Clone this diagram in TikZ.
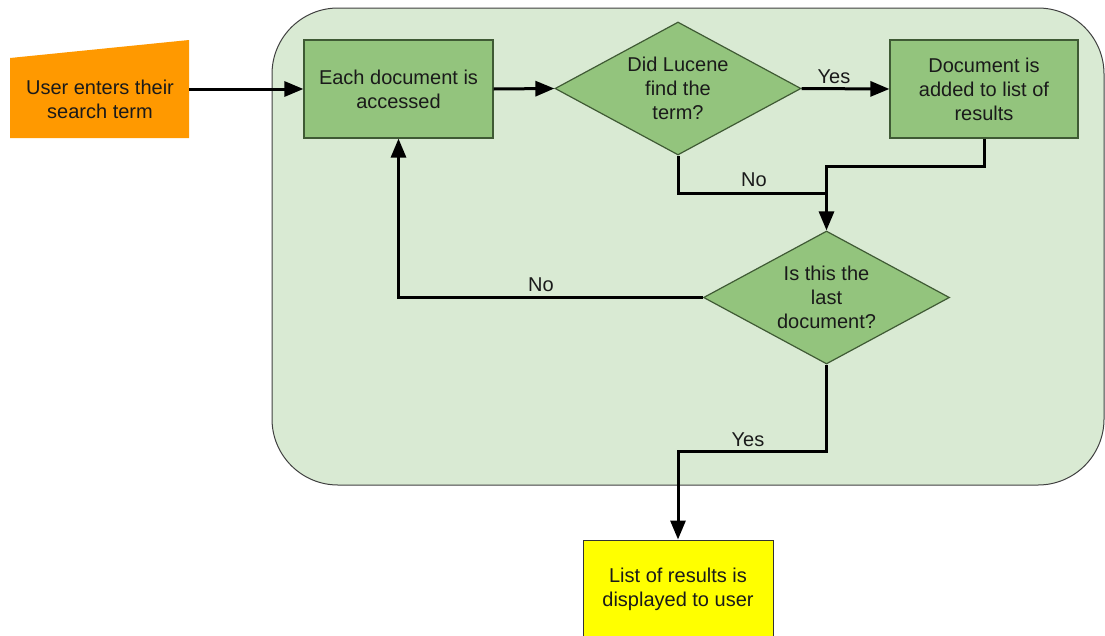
\documentclass[tikz,border=0pt]{standalone}
\usepackage{fontspec}
\setmainfont{Liberation Sans}
\usetikzlibrary{shapes.geometric,arrows.meta}
\definecolor{panel}{HTML}{D9EAD3}
\definecolor{stepgreen}{HTML}{93C47D}
\definecolor{stepedge}{HTML}{3F5A34}
\definecolor{startorange}{HTML}{FF9900}
\definecolor{endyellow}{HTML}{FFFF00}
\definecolor{ink}{HTML}{1A1A1A}
\begin{document}
\begin{tikzpicture}[x=1pt,y=-1pt,
  every node/.style={font=\fontsize{20}{24}\selectfont, text=ink, align=center},
  stepbox/.style={draw=stepedge, line width=1.2pt, fill=stepgreen, rectangle, inner sep=0pt},
  decision/.style={draw=stepedge, line width=1.2pt, fill=stepgreen, diamond, inner sep=0pt,
                   aspect=1.85, minimum width=246pt, minimum height=133pt},
  flow/.style={draw=black, line width=3pt},
  arr/.style={flow, -{Triangle[length=19pt,width=15pt]}},
  lbl/.style={inner sep=0pt}
]
\useasboundingbox (0,0) rectangle (1105,635);

% rounded panel holding the search loop
\draw[draw=black!75, line width=1pt, fill=panel, rounded corners=66pt]
  (272,8) rectangle (1104,485);

% start: manual input shape
\fill[startorange] (10,58) -- (189,40) -- (189,138) -- (10,138) -- cycle;
\node (user) at (100,99.5) {User enters their\\search term};
\coordinate (userR) at (189,89);

% process steps
\node[stepbox, minimum width=189pt, minimum height=98pt] (access) at (398.5,89)
  {Each document is\\accessed};
\node[decision] (found) at (678,88.5) {Did Lucene\\find the\\term?};
\node[stepbox, minimum width=188pt, minimum height=98pt] (added) at (984,89)
  {Document is\\added to list of\\results};
\node[decision] (last) at (826.5,297.5) {Is this the\\last\\document?};

% end
\node[draw=black!80, line width=1pt, fill=endyellow, minimum width=190pt, minimum height=98pt,
      inner sep=0pt] (show) at (678,589) {List of results is\\displayed to user};

% connectors
\draw[arr] (userR) -- (access.west |- userR);
\draw[arr] (access.east) -- (found.west);
\draw[arr] (found.east) -- (added.west);
\draw[arr] (added.south) -- ++(0,28) -| (last.north);
\coordinate (merge) at (last.north |- 0,193);
\draw[flow] (found.south) |- (merge);
\draw[arr] (last.west) -| (access.south);
\draw[arr] (last.south) -- ++(0,87) -| (show.north);

% branch labels
\node[lbl] (yes1) at (834,77) {Yes};
\node[lbl] (no1) at (754,180) {No};
\node[lbl] (no2) at (541,285) {No};
\node[lbl] (yes2) at (748,440) {Yes};
\end{tikzpicture}
\end{document}
